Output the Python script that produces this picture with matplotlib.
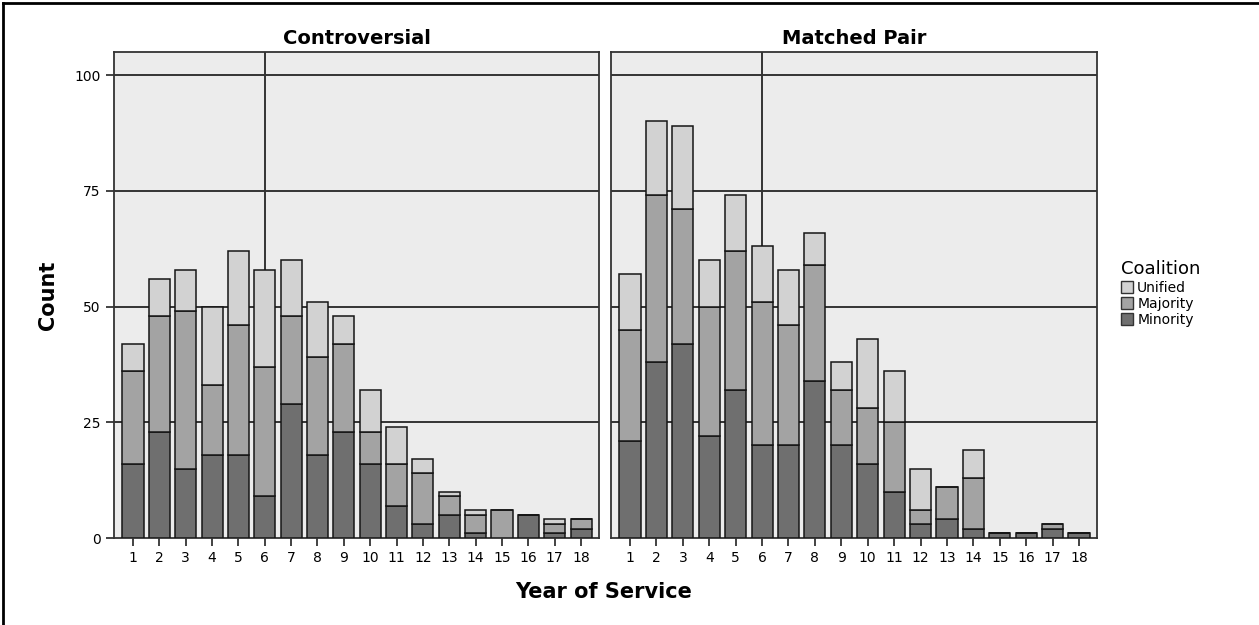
import numpy as np
import matplotlib.pyplot as plt
from matplotlib.patches import Patch
from matplotlib.lines import Line2D

# Daten
years = list(range(1, 19))
panels = ["Controversial", "Matched Pair"]
coalitions = ["Unified", "Majority", "Minority"]

contro_minority = [16, 23, 15, 18, 18, 9, 29, 18, 23, 16, 7, 3, 5, 1, 0, 5, 1, 2]
contro_majority = [20, 25, 34, 15, 28, 28, 19, 21, 19, 7, 9, 11, 4, 4, 6, 0, 2, 2]
contro_unified = [6, 8, 9, 17, 16, 21, 12, 12, 6, 9, 8, 3, 1, 1, 0, 0, 1, 0]

matched_minority = [21, 38, 42, 22, 32, 20, 20, 34, 20, 16, 10, 3, 4, 2, 1, 1, 2, 1]
matched_majority = [24, 36, 29, 28, 30, 31, 26, 25, 12, 12, 15, 3, 7, 11, 0, 0, 1, 0]
matched_unified = [12, 16, 18, 10, 12, 12, 12, 7, 6, 15, 11, 9, 0, 6, 0, 0, 0, 0]

y_ticks = [0, 25, 50, 75, 100]

colors = {"Unified": "#d2d2d2", "Majority": "#a3a3a3", "Minority": "#6f6f6f"}
font = "DejaVu Sans"

fig = plt.figure(figsize=(12.59, 6.25), dpi=100)
fig.patch.set_facecolor("white")

ax1 = fig.add_axes([114 / 1259, 87 / 625, 485 / 1259, 486 / 625])
ax2 = fig.add_axes([611 / 1259, 87 / 625, 486 / 1259, 486 / 625])

data = [
    (contro_minority, contro_majority, contro_unified),
    (matched_minority, matched_majority, matched_unified),
]

for ax, title, (mino, majo, uni) in zip([ax1, ax2], panels, data):
    x = np.array(years)
    mino = np.array(mino)
    majo = np.array(majo)
    uni = np.array(uni)
    ax.set_facecolor("#ececec")
    # Gitterlinien hinter den Balken
    for yv in y_ticks[1:]:
        ax.axhline(yv, color="#333333", linewidth=1.4, zorder=1)
    ax.axvline(6, color="#333333", linewidth=1.4, zorder=1)

    kw = dict(width=0.8, edgecolor="#151515", linewidth=1.1, zorder=3)
    ax.bar(x, mino, color=colors["Minority"], **kw)
    ax.bar(x, majo, bottom=mino, color=colors["Majority"], **kw)
    ax.bar(x, uni, bottom=mino + majo, color=colors["Unified"], **kw)

    ax.set_xlim(0.28, 18.68)
    ax.set_ylim(0, 105)
    ax.set_xticks(years)
    ax.set_xticklabels([str(v) for v in years], fontsize=10, family=font)
    ax.tick_params(axis="both", direction="out", length=6, width=1.2, color="#222222")
    ax.set_title(title, fontsize=14, fontweight="bold", family=font, pad=6)
    for s in ax.spines.values():
        s.set_color("#333333")
        s.set_linewidth(1.3)

ax1.set_yticks(y_ticks)
ax1.set_yticklabels([str(v) for v in y_ticks], fontsize=10, family=font)
ax2.set_yticks(y_ticks)
ax2.tick_params(axis="y", left=False, labelleft=False)

ax1.set_ylabel("Count", fontsize=15, fontweight="bold", family=font, labelpad=12)
fig.text(604 / 1259, 1 - 592 / 625, "Year of Service", fontsize=15, fontweight="bold",
         family=font, ha="center", va="center")

# Legende
handles = [Patch(facecolor=colors[c], edgecolor="#333333", label=c) for c in coalitions]
leg = fig.legend(handles=handles, title="Coalition", loc="upper left",
                 bbox_to_anchor=(1108 / 1259, 1 - 248 / 625), frameon=False,
                 handlelength=0.9, handleheight=0.9, handletextpad=0.3,
                 labelspacing=0.15, prop={"family": font, "size": 10},
                 title_fontproperties={"family": font, "size": 13})
leg._legend_box.align = "left"

# Rahmen links und oben
fig.add_artist(Line2D([3 / 1259, 3 / 1259], [0, 1 - 3 / 625], color="black", linewidth=2))
fig.add_artist(Line2D([3 / 1259, 1], [1 - 3 / 625, 1 - 3 / 625], color="black", linewidth=2))

fig.savefig("out.png", dpi=100)
